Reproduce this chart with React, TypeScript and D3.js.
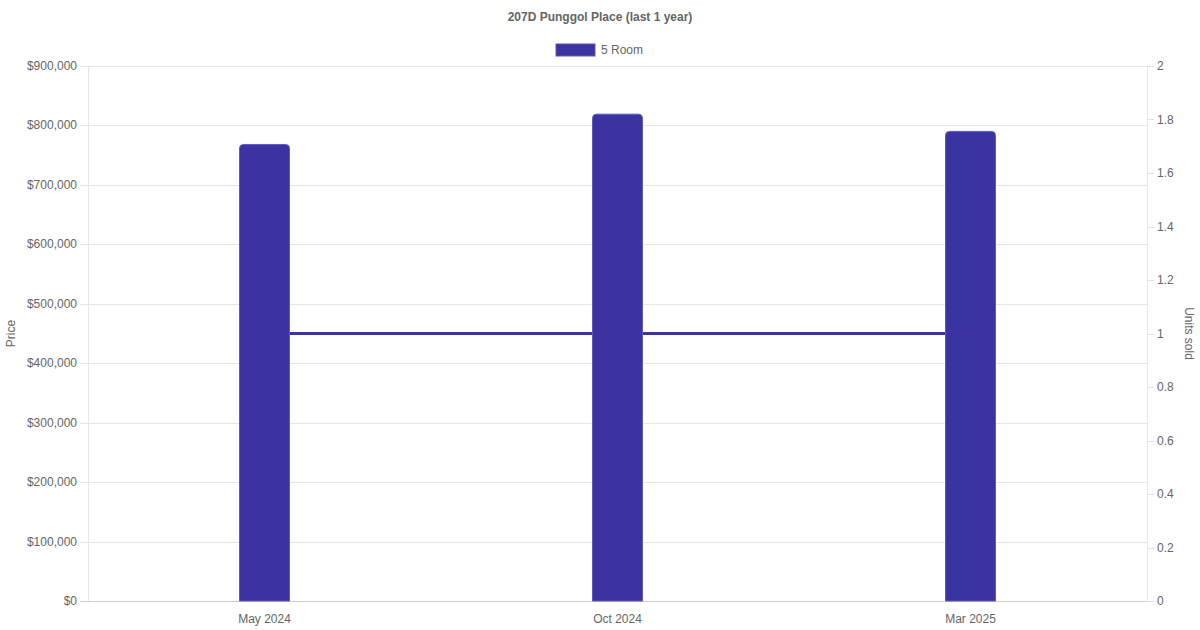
import * as d3 from 'd3';
import { useEffect, useRef } from 'react';

const title = '207D Punggol Place (last 1 year)';
const seriesName = '5 Room';
const months = ['May 2024', 'Oct 2024', 'Mar 2025'];
const prices = [768000, 819000, 790000];
const unitsSold = [1, 1, 1];
const priceTicks = [0, 100000, 200000, 300000, 400000, 500000, 600000, 700000, 800000, 900000];
const unitTicks = [0, 0.2, 0.4, 0.6, 0.8, 1, 1.2, 1.4, 1.6, 1.8, 2];

const WIDTH = 1200;
const HEIGHT = 630;
const BAR_COLOR = '#3934a0';
const BAR_BORDER = '#5f5bbd';
const TEXT_COLOR = '#666';
const FONT = '"Liberation Sans", Arial, Helvetica, sans-serif';

export default function App() {
  const svgRef = useRef<SVGSVGElement>(null);

  useEffect(() => {
    if (!svgRef.current) return;
    const svg = d3.select(svgRef.current);
    svg.selectAll('*').remove();

    const margin = { top: 66, right: 53, bottom: 29, left: 88 };
    const chartWidth = WIDTH - margin.left - margin.right;
    const chartHeight = HEIGHT - margin.top - margin.bottom;

    const x = d3.scaleBand().domain(months).range([0, chartWidth]);
    const yPrice = d3.scaleLinear().domain([0, 900000]).range([chartHeight, 0]);
    const yUnits = d3.scaleLinear().domain([0, 2]).range([chartHeight, 0]);
    const barWidth = 50;

    // Title
    svg
      .append('text')
      .attr('x', WIDTH / 2)
      .attr('y', 17)
      .attr('text-anchor', 'middle')
      .attr('dominant-baseline', 'central')
      .attr('font-family', FONT)
      .attr('font-size', 12)
      .attr('font-weight', 'bold')
      .attr('fill', TEXT_COLOR)
      .text(title);

    // Legend
    const legend = svg.append('g').attr('transform', 'translate(556,44)');
    legend
      .append('rect')
      .attr('width', 39)
      .attr('height', 12)
      .attr('fill', BAR_COLOR)
      .attr('stroke', BAR_BORDER)
      .attr('stroke-width', 1);
    legend
      .append('text')
      .attr('x', 45)
      .attr('y', 6)
      .attr('dominant-baseline', 'central')
      .attr('font-family', FONT)
      .attr('font-size', 12)
      .attr('fill', TEXT_COLOR)
      .text(seriesName);

    const g = svg
      .append('g')
      .attr('transform', `translate(${margin.left},${margin.top})`);

    // Horizontal grid (left axis), extending out as tick marks
    g.append('g')
      .selectAll('line')
      .data(priceTicks)
      .join('line')
      .attr('x1', -8)
      .attr('x2', chartWidth)
      .attr('y1', (d) => Math.round(yPrice(d)) + 0.5)
      .attr('y2', (d) => Math.round(yPrice(d)) + 0.5)
      .attr('stroke', (d) => (d === 0 ? '#cfcfcf' : '#e6e6e6'))
      .attr('stroke-width', 1);

    // Left axis line
    g.append('line')
      .attr('x1', 0.5)
      .attr('x2', 0.5)
      .attr('y1', 0)
      .attr('y2', chartHeight)
      .attr('stroke', '#e6e6e6');

    // Right axis line + tick marks
    g.append('line')
      .attr('x1', chartWidth + 0.5)
      .attr('x2', chartWidth + 0.5)
      .attr('y1', 0)
      .attr('y2', chartHeight)
      .attr('stroke', '#e6e6e6');
    g.append('g')
      .selectAll('line')
      .data(unitTicks)
      .join('line')
      .attr('x1', chartWidth)
      .attr('x2', chartWidth + 7)
      .attr('y1', (d) => Math.round(yUnits(d)) + 0.5)
      .attr('y2', (d) => Math.round(yUnits(d)) + 0.5)
      .attr('stroke', '#e0e0e0');

    // Left tick labels
    const fmt = d3.format('$,');
    g.append('g')
      .selectAll('text')
      .data(priceTicks)
      .join('text')
      .attr('x', -11)
      .attr('y', (d) => yPrice(d))
      .attr('text-anchor', 'end')
      .attr('dominant-baseline', 'central')
      .attr('font-family', FONT)
      .attr('font-size', 12)
      .attr('fill', TEXT_COLOR)
      .text((d) => fmt(d));

    // Right tick labels
    g.append('g')
      .selectAll('text')
      .data(unitTicks)
      .join('text')
      .attr('x', chartWidth + 10)
      .attr('y', (d) => yUnits(d))
      .attr('text-anchor', 'start')
      .attr('dominant-baseline', 'central')
      .attr('font-family', FONT)
      .attr('font-size', 12)
      .attr('fill', TEXT_COLOR)
      .text((d) => String(d));

    // X labels
    g.append('g')
      .selectAll('text')
      .data(months)
      .join('text')
      .attr('x', (d) => (x(d) ?? 0) + x.bandwidth() / 2)
      .attr('y', chartHeight + 18)
      .attr('text-anchor', 'middle')
      .attr('dominant-baseline', 'central')
      .attr('font-family', FONT)
      .attr('font-size', 12)
      .attr('fill', TEXT_COLOR)
      .text((d) => d);

    // Axis titles
    svg
      .append('text')
      .attr('transform', `translate(11,${margin.top + chartHeight / 2}) rotate(-90)`)
      .attr('text-anchor', 'middle')
      .attr('dominant-baseline', 'central')
      .attr('font-family', FONT)
      .attr('font-size', 12)
      .attr('fill', TEXT_COLOR)
      .text('Price');
    svg
      .append('text')
      .attr('transform', `translate(1189,${margin.top + chartHeight / 2}) rotate(90)`)
      .attr('text-anchor', 'middle')
      .attr('dominant-baseline', 'central')
      .attr('font-family', FONT)
      .attr('font-size', 12)
      .attr('fill', TEXT_COLOR)
      .text('Units sold');

    // Units sold line (behind bars)
    const line = d3
      .line<number>()
      .x((_, i) => (x(months[i]) ?? 0) + x.bandwidth() / 2)
      .y((d) => yUnits(d));
    g.append('path')
      .datum(unitsSold)
      .attr('fill', 'none')
      .attr('stroke', BAR_COLOR)
      .attr('stroke-width', 3)
      .attr('d', line);

    // Bars with rounded top corners
    const r = 4;
    g.append('g')
      .selectAll('path')
      .data(prices)
      .join('path')
      .attr('d', (d, i) => {
        const cx = (x(months[i]) ?? 0) + x.bandwidth() / 2;
        const x0 = cx - barWidth / 2;
        const x1 = cx + barWidth / 2;
        const y0 = yPrice(d);
        const yb = yPrice(0);
        return `M${x0},${yb} L${x0},${y0 + r} Q${x0},${y0} ${x0 + r},${y0} L${x1 - r},${y0} Q${x1},${y0} ${x1},${y0 + r} L${x1},${yb} Z`;
      })
      .attr('fill', BAR_COLOR)
      .attr('stroke', BAR_BORDER)
      .attr('stroke-width', 1);
  }, []);

  return (
    <div style={{ position: 'absolute', left: 0, top: 0 }}>
      <svg ref={svgRef} width={WIDTH} height={HEIGHT} style={{ display: 'block', background: '#fff' }} />
    </div>
  );
}
